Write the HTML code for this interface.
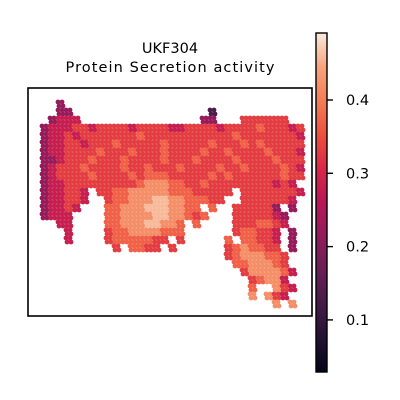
<!DOCTYPE html>
<html><head><meta charset="utf-8"><style>
body{margin:0;background:#fff;}
svg{display:block;font-family:"DejaVu Sans","Liberation Sans",sans-serif;}
</style></head><body>
<svg id="chart" width="400" height="400">
<defs><linearGradient id="cbg" x1="0" y1="1" x2="0" y2="0">
<stop offset="0" stop-color="#03051A"/><stop offset="0.1" stop-color="#221331"/><stop offset="0.2" stop-color="#451C47"/><stop offset="0.3" stop-color="#691F55"/><stop offset="0.4" stop-color="#921C5B"/><stop offset="0.5" stop-color="#B91657"/><stop offset="0.6" stop-color="#D92847"/><stop offset="0.7" stop-color="#ED503E"/><stop offset="0.8" stop-color="#F47D57"/><stop offset="0.9" stop-color="#F6A47C"/><stop offset="1" stop-color="#FAEBDD"/>
</linearGradient></defs>
<text x="170" y="53" text-anchor="middle" font-size="14.5">UKF304</text>
<text x="170" y="72" text-anchor="middle" font-size="14.5" textLength="209">Protein Secretion activity</text>
<g id="spots"></g>
<rect x="28" y="88" width="284" height="228" fill="none" stroke="#000" stroke-width="1.6"/>
<rect x="316" y="33" width="11" height="339" fill="url(#cbg)" stroke="#000" stroke-width="1.4"/>
<g id="cbticks"></g>
</svg>
<script>
const rowValues = [
"  4                              ",
"  44                 2           ",
" 4555               44   666666  ",
"455566566665666655666656666766656",
"455656666666766666666666766666665",
"455665666766666766666766676766666",
"455666676667666766667667666676665",
"445666766676666766676666766667666",
"456667666676676667666676676666765",
"456666766667677766666767666666766",
"45566666666678887766766666666565 ",
"455665 66778888877766666 66666665",
"455665  677888998877766  6666665 ",
"45565   778889998877 7  666664 4 ",
"4555    7788889988767   6666654  ",
"  55    7788899887 7    6667765  ",
"   5    6778888777      677665 4 ",
"   5    67777766 6     7 77665 4 ",
"         6 7766 6      6787766 4 ",
"                       67888776  ",
"                        7788876  ",
"                         6888875 ",
"                          67885  ",
"                          7  865 ",
"                          8 865  ",
"                             8 8 "
];
const levelValues = [0.03,0.08,0.13,0.17,0.22,0.28,0.33,0.37,0.42,0.46];
const tickValues = [0.1,0.2,0.3,0.4];
const tickLabels = ["0.1","0.2","0.3","0.4"];
const vmin = 0.029, vmax = 0.491;
const stops = ["#03051A","#221331","#451C47","#691F55","#921C5B","#B91657","#D92847","#ED503E","#F47D57","#F6A47C","#FAEBDD"];
function hex(c){return [1,3,5].map(i=>parseInt(c.substr(i,2),16));}
function cmap(v){
  let t=Math.max(0,Math.min(1,(v-vmin)/(vmax-vmin)))*10;
  let i=Math.min(9,Math.floor(t)),f=t-i;
  const a=hex(stops[i]),b=hex(stops[i+1]);
  return "rgb("+a.map((x,k)=>Math.round(x+(b[k]-x)*f)).join(",")+")";
}
const NS="http://www.w3.org/2000/svg";
const xCell = c => 40 + 8*c;
const yCell = r => 100 + 8*r;
const cbY = v => 100 + (0.4 - v)*733;
const g=document.getElementById("spots");
rowValues.forEach((row,r)=>{
  for(let c=0;c<row.length;c++){
    const ch=row[c]; if(ch===" ")continue;
    const v=levelValues[+ch];
    for(let dy=0;dy<2;dy++)for(let dx=0;dx<2;dx++){
      const el=document.createElementNS(NS,"circle");
      el.setAttribute("cx",xCell(c)+2+dx*4+(dy?1:0));
      el.setAttribute("cy",yCell(r)+2+dy*4);
      el.setAttribute("r",2.4);
      el.setAttribute("fill",cmap(v));
      
      
      g.appendChild(el);
    }
  }
});
const tg=document.getElementById("cbticks");
tickValues.forEach((v,i)=>{
  const y=cbY(v);
  const l=document.createElementNS(NS,"line");
  l.setAttribute("x1",327);l.setAttribute("x2",333);l.setAttribute("y1",y);l.setAttribute("y2",y);
  l.setAttribute("stroke","#000");l.setAttribute("stroke-width","1.4");
  
  
  tg.appendChild(l);
  const t=document.createElementNS(NS,"text");
  t.setAttribute("x",346);t.setAttribute("y",y+5);t.setAttribute("font-size","14.5");
  t.textContent=tickLabels[i];
  
  
  tg.appendChild(t);
});
</script>
</body></html>
